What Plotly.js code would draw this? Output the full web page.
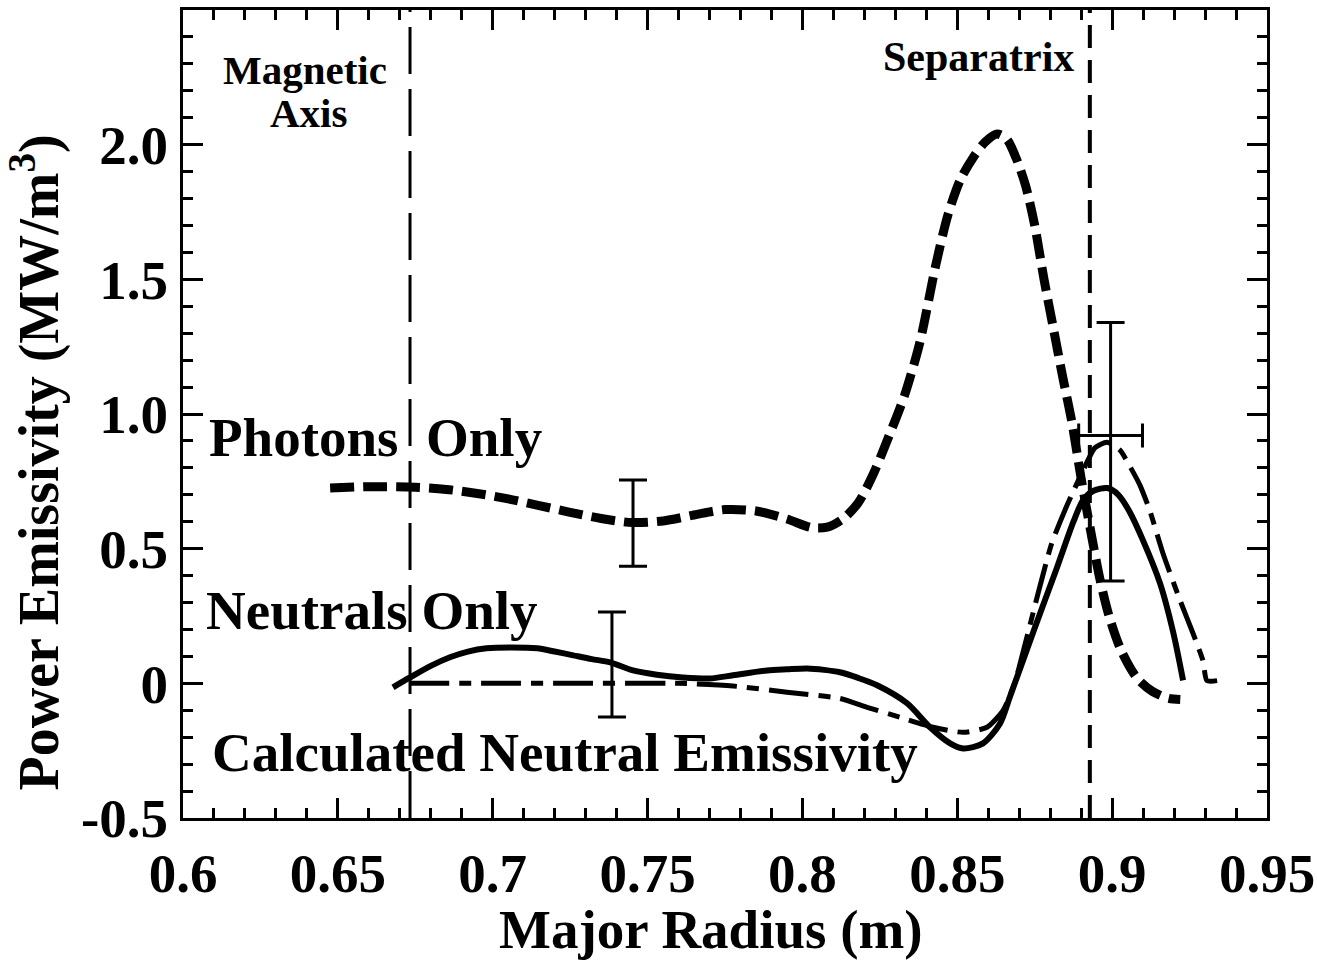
<!DOCTYPE html>
<html>
<head>
<meta charset="utf-8">
<script src="https://cdn.plot.ly/plotly-3.0.1.min.js"></script>
<style>
  html, body { margin: 0; padding: 0; background: #fff; }
  #chart { width: 1317px; height: 960px; }
</style>
</head>
<body>
<div id="chart"></div>
<script>
// Radial emissivity profiles (major radius in m, emissivity in MW/m^3)
const photonsR = [0.6475, 0.66, 0.675, 0.685, 0.695, 0.705, 0.715, 0.725, 0.735, 0.745, 0.755, 0.765, 0.775, 0.785, 0.795, 0.803, 0.808, 0.813, 0.818, 0.823, 0.828, 0.833, 0.838, 0.843, 0.847, 0.851, 0.855, 0.859, 0.8628, 0.866, 0.869, 0.872, 0.875, 0.878, 0.881, 0.884, 0.887, 0.89, 0.893, 0.896, 0.899, 0.903, 0.908, 0.913, 0.918, 0.922];
const photonsP = [0.725, 0.73, 0.728, 0.72, 0.705, 0.685, 0.66, 0.635, 0.612, 0.597, 0.603, 0.625, 0.645, 0.64, 0.61, 0.578, 0.58, 0.61, 0.67, 0.78, 0.92, 1.07, 1.27, 1.55, 1.74, 1.87, 1.95, 2.01, 2.04, 2.02, 1.95, 1.85, 1.70, 1.50, 1.32, 1.14, 0.97, 0.76, 0.57, 0.39, 0.25, 0.12, 0.02, -0.03, -0.055, -0.06];

const neutralsR = [0.6678, 0.673, 0.68, 0.6862, 0.692, 0.698, 0.706, 0.7143, 0.72, 0.726, 0.732, 0.7379, 0.7453, 0.753, 0.7614, 0.77, 0.7776, 0.7886, 0.795, 0.8015, 0.807, 0.8121, 0.818, 0.8241, 0.8338, 0.8412, 0.8477, 0.8519, 0.8583, 0.8638, 0.867, 0.8745, 0.8822, 0.8875, 0.8906, 0.894, 0.8985, 0.902, 0.9055, 0.91, 0.9155, 0.9197, 0.9229];
const neutralsP = [-0.015, 0.02, 0.065, 0.097, 0.118, 0.13, 0.133, 0.13, 0.118, 0.104, 0.09, 0.078, 0.048, 0.032, 0.022, 0.018, 0.03, 0.048, 0.052, 0.055, 0.05, 0.041, 0.02, -0.007, -0.074, -0.163, -0.223, -0.242, -0.223, -0.149, -0.05, 0.19, 0.43, 0.60, 0.68, 0.715, 0.725, 0.70, 0.64, 0.53, 0.37, 0.19, 0.011];

const calcR = [0.673, 0.70, 0.73, 0.76, 0.7776, 0.795, 0.8121, 0.8209, 0.8315, 0.8422, 0.8519, 0.8596, 0.8648, 0.8685, 0.872, 0.876, 0.8805, 0.8854, 0.8906, 0.8945, 0.8983, 0.9025, 0.906, 0.909, 0.9122, 0.9164, 0.9219, 0.9261, 0.9293, 0.9306, 0.9339];
const calcP = [0.0, 0.0, 0.0, 0.0, -0.01, -0.033, -0.056, -0.089, -0.126, -0.163, -0.182, -0.163, -0.10, 0.0, 0.15, 0.33, 0.52, 0.66, 0.79, 0.875, 0.895, 0.866, 0.80, 0.735, 0.64, 0.483, 0.309, 0.186, 0.085, 0.01, 0.01];

// Measured points with uncertainties
const photonsPtR = [0.7453];
const photonsPtP = [0.595];
const photonsPtErr = [0.16];

const neutralsPtR = [0.7385];
const neutralsPtP = [0.07];
const neutralsPtErr = [0.195];

const edgePtR = [0.8995];
const edgePtP = [0.92];
const edgePtErrPlus = [0.42];
const edgePtErrMinus = [0.54];
const edgePtErrR = [0.0103];

// Reference radii
const magneticAxisR = 0.6733;
const separatrixR = 0.8928;
const yFull = [-0.5, 2.5];

// Axis ticks
const xTickVals = [0.6, 0.65, 0.7, 0.75, 0.8, 0.85, 0.9, 0.95];
const xTickText = ['0.6', '0.65', '0.7', '0.75', '0.8', '0.85', '0.9', '0.95'];
const yTickVals = [-0.5, 0, 0.5, 1.0, 1.5, 2.0];
const yTickText = ['-0.5', '0', '0.5', '1.0', '1.5', '2.0'];

const serif = 'Liberation Serif, Times New Roman, serif';
const ink = '#000';

const traces = [
  { x: photonsR, y: photonsP, mode: 'lines', line: { color: ink, width: 9, dash: '24px,9px', shape: 'spline', smoothing: 0.8 }, hoverinfo: 'skip' },
  { x: neutralsR, y: neutralsP, mode: 'lines', line: { color: ink, width: 6, shape: 'spline', smoothing: 0.8 }, hoverinfo: 'skip' },
  { x: calcR, y: calcP, mode: 'lines', line: { color: ink, width: 5, dash: '40px,10px,12px,10px', shape: 'spline', smoothing: 0.6 }, hoverinfo: 'skip' },
  { x: [magneticAxisR, magneticAxisR], y: yFull, mode: 'lines', line: { color: ink, width: 3, dash: '47px,15px' }, hoverinfo: 'skip' },
  { x: [separatrixR, separatrixR], y: yFull, mode: 'lines', line: { color: ink, width: 4, dash: '23px,12px' }, hoverinfo: 'skip' },
  { x: photonsPtR, y: photonsPtP, mode: 'markers', marker: { size: 1, color: 'rgba(0,0,0,0)' },
    error_y: { type: 'data', array: photonsPtErr, visible: true, color: ink, thickness: 3, width: 14 }, hoverinfo: 'skip' },
  { x: neutralsPtR, y: neutralsPtP, mode: 'markers', marker: { size: 1, color: 'rgba(0,0,0,0)' },
    error_y: { type: 'data', array: neutralsPtErr, visible: true, color: ink, thickness: 3, width: 14 }, hoverinfo: 'skip' },
  { x: edgePtR, y: edgePtP, mode: 'markers', marker: { size: 1, color: 'rgba(0,0,0,0)' },
    error_y: { type: 'data', symmetric: false, array: edgePtErrPlus, arrayminus: edgePtErrMinus, visible: true, color: ink, thickness: 3, width: 14 },
    error_x: { type: 'data', array: edgePtErrR, visible: true, color: ink, thickness: 3, width: 12 }, hoverinfo: 'skip' }
];

function label(text, x, y, size, extra) {
  return Object.assign({ text: text, x: x, y: y, xref: 'x', yref: 'y', showarrow: false,
    xanchor: 'center', yanchor: 'middle', font: { family: serif, size: size, color: ink, weight: 700 } }, extra || {});
}

const annotations = [
  label('Magnetic', 0.6395, 2.279, 41),
  label('Axis', 0.6405, 2.117, 41),
  label('Separatrix', 0.8567, 2.327, 42),
  label('Photons&nbsp;&nbsp;Only', 0.662, 0.911, 55),
  label('Neutrals Only', 0.661, 0.271, 55),
  label('Calculated Neutral Emissivity', 0.7233, -0.257, 55),
  { text: 'Major Radius (m)', xref: 'paper', yref: 'paper', x: 0.487, y: -0.1386, showarrow: false,
    xanchor: 'center', yanchor: 'middle', font: { family: serif, size: 55, color: ink, weight: 700 } },
  { text: 'Power Emissivity (MW/m<sup>3</sup>)', xref: 'paper', yref: 'paper', x: -0.1360, y: 0.4394, showarrow: false,
    textangle: -90, xanchor: 'center', yanchor: 'middle', font: { family: serif, size: 56, color: ink, weight: 700 } }
];

const axisCommon = {
  showgrid: false, zeroline: false, showline: true, linecolor: ink, linewidth: 3,
  mirror: 'allticks', ticks: 'inside', ticklen: 20, tickwidth: 3, tickcolor: ink,
  tickmode: 'array',
  tickfont: { family: serif, size: 55, color: ink, weight: 700 }
};

const layout = {
  width: 1317, height: 960,
  margin: { l: 183, r: 50, t: 10, b: 142, pad: 0 },
  paper_bgcolor: '#fff', plot_bgcolor: '#fff',
  showlegend: false,
  xaxis: Object.assign({}, axisCommon, {
    range: [0.6, 0.95], tickvals: xTickVals, ticktext: xTickText, ticklabelstandoff: 5,
    minor: { tickmode: 'linear', tick0: 0.6, dtick: 0.01, ticks: 'inside', ticklen: 10, tickwidth: 3, tickcolor: ink }
  }),
  yaxis: Object.assign({}, axisCommon, {
    range: [-0.5, 2.5], tickvals: yTickVals, ticktext: yTickText, ticklabelstandoff: 1,
    minor: { tickmode: 'linear', tick0: -0.5, dtick: 0.1, ticks: 'inside', ticklen: 10, tickwidth: 3, tickcolor: ink }
  }),
  annotations: annotations
};

Plotly.newPlot('chart', traces, layout, { staticPlot: true, displayModeBar: false });
</script>
</body>
</html>
